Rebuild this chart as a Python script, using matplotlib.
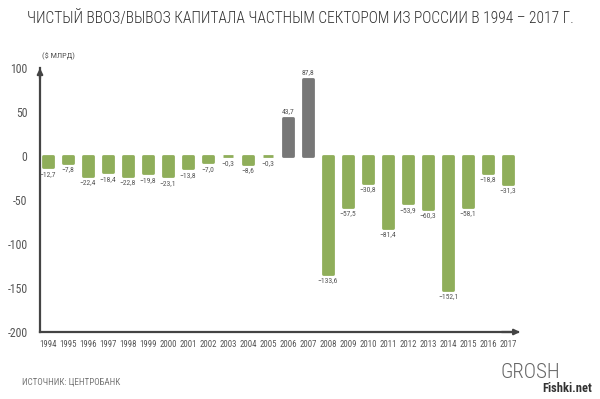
import numpy as np
import matplotlib
matplotlib.use('Agg')
import matplotlib.pyplot as plt

# data, $ bn
years = list(range(1994, 2018))
values = [-12.7, -7.8, -22.4, -18.4, -22.8, -19.8, -23.1, -13.8, -7.0, -0.3, -8.6, -0.3,
          43.7, 87.8, -133.6, -57.5, -30.8, -81.4, -53.9, -60.3, -152.1, -58.1, -18.8, -31.3]
value_labels = ['−12,7', '−7,8', '−22,4', '−18,4', '−22,8', '−19,8', '−23,1', '−13,8', '−7,0',
                '−0,3', '−8,6', '−0,3', '43,7', '87,8', '−133,6', '−57,5', '−30,8', '−81,4',
                '−53,9', '−60,3', '−152,1', '−58,1', '−18,8', '−31,3']
y_ticks = [100, 50, 0, -50, -100, -150, -200]

plt.rcParams['font.family'] = ['Roboto Condensed', 'DejaVu Sans']

GREEN = '#8fae5a'
GREY = '#777777'
AXC = '#444444'
TXT = '#555555'

fig = plt.figure(figsize=(6, 3.99), dpi=100)
ax = fig.add_axes([40 / 600, 1 - 332 / 399, (518 - 40) / 600, (332 - 68) / 399])

x = np.arange(len(years))
colors = [GREY if v > 0 else GREEN for v in values]
# edge in the same colour with round joins -> softly rounded corners
ax.bar(x, values, width=0.52, color=colors, edgecolor=colors, linewidth=2,
       joinstyle='round', zorder=2)

for xi, v, lab in zip(x, values, value_labels):
    if v > 0:
        ax.text(xi, v + 3.5, lab, ha='center', va='bottom', fontsize=5.5, color=TXT)
    else:
        ax.text(xi, v - 4, lab, ha='center', va='top', fontsize=5.5, color=TXT)

ax.set_xlim(-0.4, 23.5)
ax.set_ylim(-200, 100)
ax.set_xticks(x)
ax.set_xticklabels([str(y) for y in years], fontsize=6.3, color=TXT)
ax.set_yticks(y_ticks)
ax.set_yticklabels([str(t) for t in y_ticks], fontsize=8.5, color=TXT)
ax.tick_params(axis='x', length=0, pad=6)
ax.tick_params(axis='y', length=0, pad=9)

for s in ['top', 'right']:
    ax.spines[s].set_visible(False)
for s in ['left', 'bottom']:
    ax.spines[s].set_color(AXC)
    ax.spines[s].set_linewidth(1.6)

# arrow heads
ax.annotate('', xy=(0, 1.01), xytext=(0, 0.95), xycoords='axes fraction',
            arrowprops=dict(arrowstyle='-|>', color=AXC, lw=1.6, mutation_scale=8))
ax.annotate('', xy=(1.01, 0), xytext=(0.96, 0), xycoords='axes fraction',
            arrowprops=dict(arrowstyle='-|>', color=AXC, lw=1.6, mutation_scale=8))

fig.text(0.5, 0.955, 'ЧИСТЫЙ ВВОЗ/ВЫВОЗ КАПИТАЛА ЧАСТНЫМ СЕКТОРОМ ИЗ РОССИИ В 1994 – 2017 Г.',
         ha='center', va='center', fontsize=11.2, color='#333333', fontweight='light')
fig.text(42 / 600, 1 - 56 / 399, '($ МЛРД)', ha='left', va='center', fontsize=6, color=TXT)
fig.text(22 / 600, 1 - 382 / 399, 'ИСТОЧНИК: ЦЕНТРОБАНК', ha='left', va='center',
         fontsize=6.5, color='#777777')
fig.text(500 / 600, 1 - 372 / 399, 'GROSH', ha='left', va='center',
         fontsize=15, color='#666666', fontweight='light')
fig.text(592 / 600, 1 - 388 / 399, 'Fishki.net', ha='right', va='center',
         fontsize=9, color='#333333', fontweight='bold')

fig.savefig('out.png', dpi=100, facecolor='white')
